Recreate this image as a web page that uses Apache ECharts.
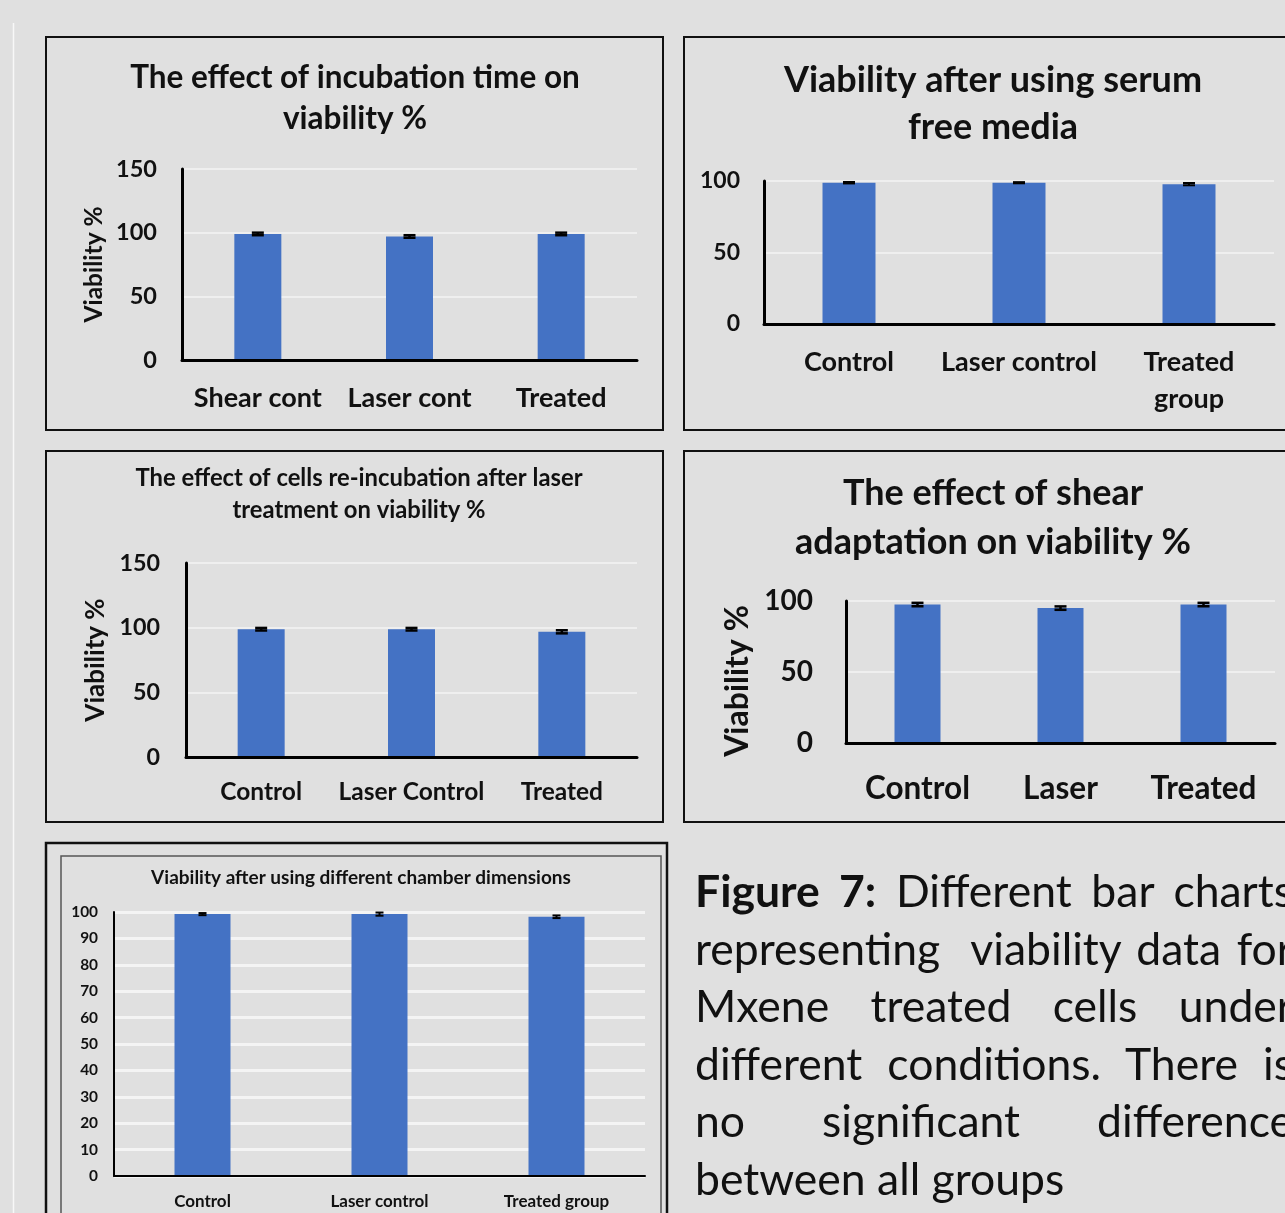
<!DOCTYPE html>
<html>
<head>
<meta charset="utf-8">
<script src="https://cdn.jsdelivr.net/npm/echarts@6/dist/echarts.min.js"></script>
<style>
html,body{margin:0;padding:0;background:#e0e0e0;overflow:hidden;width:1285px;height:1213px;}
#chart{position:absolute;left:0;top:0;width:1285px;height:1213px;}
#caption{position:absolute;left:695px;top:861px;width:598px;font-family:Lato,"Open Sans",sans-serif;font-size:44.5px;line-height:57.5px;color:#111;}
#caption .j{text-align:justify;text-align-last:justify;white-space:nowrap;}
#caption b{font-weight:bold;}
</style>
</head>
<body>
<div id="chart"></div>
<div id="caption">
<div class="j"><b>Figure 7:</b> Different bar charts</div>
<div class="j">representing&nbsp; viability data for</div>
<div class="j">Mxene treated cells under</div>
<div class="j">different conditions. There is</div>
<div class="j">no significant difference</div>
<div>between all groups</div>
</div>
<script>
// ---- data ----
var p1Categories = ['Shear cont', 'Laser cont', 'Treated'];
var p1Values = [99, 97, 99];
var p1Errors = [1, 1, 1];

var p2Categories = ['Control', 'Laser control', 'Treated\ngroup'];
var p2Values = [98.8, 98.8, 97.8];
var p2Errors = [0.5, 0.4, 0.8];

var p3Categories = ['Control', 'Laser Control', 'Treated'];
var p3Values = [98.8, 98.8, 96.8];
var p3Errors = [1, 1, 1.2];

var p4Categories = ['Control', 'Laser', 'Treated'];
var p4Values = [97.5, 95, 97.5];
var p4Errors = [1.2, 1.2, 1.2];

var p5Categories = ['Control', 'Laser control', 'Treated group'];
var p5Values = [99.2, 99.2, 98.2];
var p5Errors = [0.4, 0.6, 0.5];

var p1Ticks = {max: 150, interval: 50};
var p2Ticks = {max: 100, interval: 50};
var p3Ticks = {max: 150, interval: 50};
var p4Ticks = {max: 100, interval: 50};
var p5Ticks = {max: 100, interval: 10};

var titles = [
  'The effect of incubation time on\nviability %',
  'Viability after using serum\nfree media',
  'The effect of cells re-incubation after laser\ntreatment on viability %',
  'The effect of shear\nadaptation on viability %',
  'Viability after using different chamber dimensions'
];
var yName = 'Viability %';

// ---- layout / style ----
var FONT = 'Lato, "Open Sans", sans-serif';
var BAR = '#4472C4';
var panels = [
  {cats: p1Categories, vals: p1Values, errs: p1Errors, ticks: p1Ticks,
   grid: {left: 182, top: 169, width: 455, height: 191}, barW: 47, cap: 12, errW: 2.5,
   xFont: 27, xMargin: 25, yFont: 23.5, yMargin: 25, axisW: 3, splitW: 1.5,
   title: {x: 355, top: 57.5, fs: 31.5, lh: 41}, yname: {fs: 24.5, gap: 75, pad: [0, 0, 0, 0]}},
  {cats: p2Categories, vals: p2Values, errs: p2Errors, ticks: p2Ticks,
   grid: {left: 764, top: 181, width: 510, height: 143}, barW: 53, cap: 12, errW: 2,
   xFont: 27, xMargin: 20, xLh: 37, yFont: 23, yMargin: 24, axisW: 3, splitW: 1.5,
   title: {x: 993, top: 56.5, fs: 36, lh: 47}},
  {cats: p3Categories, vals: p3Values, errs: p3Errors, ticks: p3Ticks,
   grid: {left: 186, top: 563, width: 451, height: 194}, barW: 47, cap: 12, errW: 2.5,
   xFont: 24.5, xMargin: 23, yFont: 23.3, yMargin: 26, axisW: 3, splitW: 1.5,
   title: {x: 359, top: 462, fs: 23.8, lh: 32}, yname: {fs: 26, gap: 77, pad: [0, 0, 0, 0]}},
  {cats: p4Categories, vals: p4Values, errs: p4Errors, ticks: p4Ticks,
   grid: {left: 846, top: 601, width: 429, height: 142}, barW: 46, cap: 12, errW: 2.5,
   xFont: 31.5, xMargin: 30, yFont: 28, yMargin: 33, axisW: 3, splitW: 1.5,
   title: {x: 993, top: 468.5, fs: 36, lh: 49}, yname: {fs: 32, gap: 92, pad: [0, 18, 0, 0]}},
  {cats: p5Categories, vals: p5Values, errs: p5Errors, ticks: p5Ticks,
   grid: {left: 114, top: 912, width: 531, height: 264}, barW: 56, cap: 8, errW: 2,
   xFont: 17, xMargin: 17, yFont: 15.4, yMargin: 16, axisW: 2, splitW: 3,
   title: {x: 361, top: 868, fs: 19, lh: 20}}
];

function makeErr(cap, w) {
  return function (params, api) {
    var x = api.value(0), v = api.value(1), e = api.value(2);
    var hi = api.coord([x, v + e]);
    var lo = api.coord([x, v - e]);
    var st = {stroke: '#000', lineWidth: w};
    return {type: 'group', children: [
      {type: 'line', shape: {x1: hi[0], y1: hi[1], x2: lo[0], y2: lo[1]}, style: st},
      {type: 'line', shape: {x1: hi[0] - cap / 2, y1: hi[1], x2: hi[0] + cap / 2, y2: hi[1]}, style: st},
      {type: 'line', shape: {x1: lo[0] - cap / 2, y1: lo[1], x2: lo[0] + cap / 2, y2: lo[1]}, style: st}
    ]};
  };
}

var option = {
  backgroundColor: '#e0e0e0',
  animation: false,
  title: [], grid: [], xAxis: [], yAxis: [], series: [],
  graphic: [
    {type: 'line', shape: {x1: 13.5, y1: 23, x2: 13.5, y2: 1213}, style: {stroke: '#f8f8f8', lineWidth: 1.5}},
    {type: 'rect', shape: {x: 46, y: 37, width: 617, height: 393}, style: {fill: null, stroke: '#111', lineWidth: 2}},
    {type: 'rect', shape: {x: 684, y: 37, width: 620, height: 393}, style: {fill: null, stroke: '#111', lineWidth: 2}},
    {type: 'rect', shape: {x: 46, y: 451, width: 617, height: 371}, style: {fill: null, stroke: '#111', lineWidth: 2}},
    {type: 'rect', shape: {x: 684, y: 451, width: 620, height: 371}, style: {fill: null, stroke: '#111', lineWidth: 2}},
    {type: 'rect', shape: {x: 46, y: 843, width: 621, height: 390}, style: {fill: null, stroke: '#111', lineWidth: 2.5}},
    {type: 'rect', shape: {x: 61, y: 856, width: 600, height: 380}, style: {fill: null, stroke: '#555', lineWidth: 1.5}}
  ]
};

panels.forEach(function (p, i) {
  option.title.push({
    text: titles[i], left: p.title.x, top: p.title.top, textAlign: 'center', padding: 0,
    textStyle: {fontFamily: FONT, fontSize: p.title.fs, lineHeight: p.title.lh, fontWeight: 'bold', color: '#111'}
  });
  option.grid.push({left: p.grid.left, top: p.grid.top, width: p.grid.width, height: p.grid.height, containLabel: false});
  var xl = {margin: p.xMargin, fontSize: p.xFont, fontWeight: 'bold', color: '#111', fontFamily: FONT, interval: 0};
  if (p.xLh) { xl.lineHeight = p.xLh; xl.verticalAlign = 'top'; }
  option.xAxis.push({
    type: 'category', gridIndex: i, data: p.cats,
    axisLine: {show: true, lineStyle: {color: '#000', width: p.axisW}},
    axisTick: {show: false}, axisLabel: xl, splitLine: {show: false}, z: 5
  });
  var ya = {
    type: 'value', gridIndex: i, min: 0, max: p.ticks.max, interval: p.ticks.interval,
    axisLine: {show: true, lineStyle: {color: '#000', width: p.axisW}},
    axisTick: {show: false},
    axisLabel: {margin: p.yMargin, fontSize: p.yFont, fontWeight: 'bold', color: '#111', fontFamily: FONT},
    splitLine: {show: true, lineStyle: {color: '#f4f4f4', width: p.splitW}}, z: 0
  };
  if (p.yname) {
    ya.name = yName; ya.nameLocation = 'middle'; ya.nameRotate = 90; ya.nameGap = p.yname.gap;
    ya.nameTextStyle = {fontFamily: FONT, fontSize: p.yname.fs, fontWeight: 'bold', color: '#111', padding: p.yname.pad};
  }
  option.yAxis.push(ya);
  option.series.push({
    type: 'bar', xAxisIndex: i, yAxisIndex: i, data: p.vals, barWidth: p.barW,
    itemStyle: {color: BAR}, z: 2
  });
  option.series.push({
    type: 'custom', xAxisIndex: i, yAxisIndex: i, z: 6,
    renderItem: makeErr(p.cap, p.errW),
    data: p.vals.map(function (v, k) { return [k, v, p.errs[k]]; })
  });
});

var chart = echarts.init(document.getElementById('chart'), null, {renderer: 'canvas'});
chart.setOption(option);
</script>
</body>
</html>
